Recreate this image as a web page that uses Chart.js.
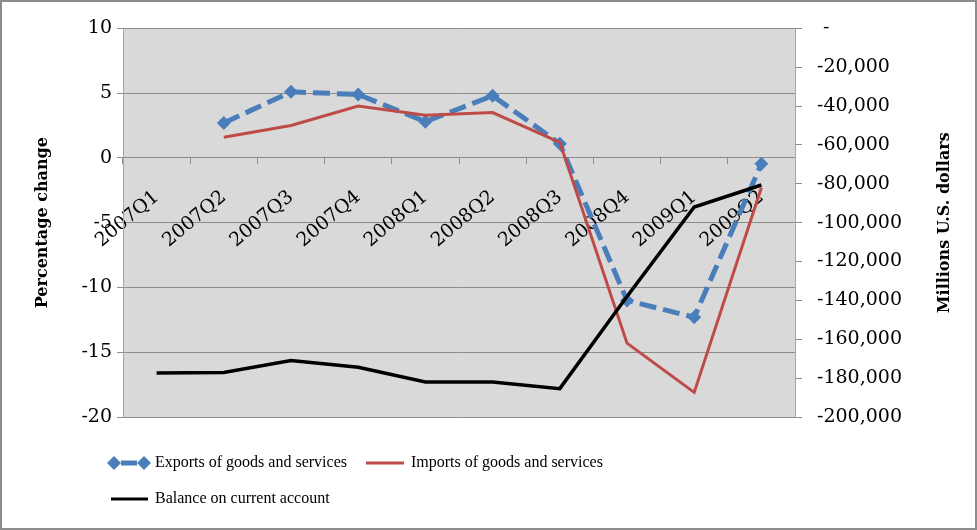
<!DOCTYPE html>
<html>
<head>
<meta charset="utf-8">
<script src="https://cdn.jsdelivr.net/npm/chart.js@4.4.1/dist/chart.umd.min.js"></script>
<style>
  html, body { margin: 0; padding: 0; background: #fff; }
  #frame { width: 977px; height: 530px; box-sizing: border-box; border: 2px solid #8c8c8c; }
  #chart-container { position: relative; width: 973px; height: 526px; }
</style>
</head>
<body>
<div id="frame"><div id="chart-container"><canvas id="chart"></canvas></div></div>
<script>
const quarters = ["2007Q1", "2007Q2", "2007Q3", "2007Q4", "2008Q1", "2008Q2", "2008Q3", "2008Q4", "2009Q1", "2009Q2"];
const exportsChange = [null, 2.7, 5.1, 4.9, 2.8, 4.8, 1.1, -11.0, -12.3, -0.45];
const importsChange = [null, 1.6, 2.5, 4.0, 3.3, 3.5, 1.2, -14.3, -18.1, -2.3];
const currentBalance = [-177400, -177100, -170900, -174400, -182000, -182000, -185400, -138000, -91900, -80600];
const leftTicks = [10, 5, 0, -5, -10, -15, -20];
const rightTicks = [0, -20000, -40000, -60000, -80000, -100000, -120000, -140000, -160000, -180000, -200000];
const leftTitle = "Percentage change";
const rightTitle = "Millions U.S. dollars";

const BLUE = "#4a7ebb";
const RED = "#be4b48";
const GRID = "#8c8c8c";
const AXIS = "#a6a6a6";

function makeSwatch(w, h, draw) {
    const c = document.createElement("canvas");
    c.width = w;
    c.height = h;
    draw(c.getContext("2d"), w, h);
    return c;
}

function diamond(g, x, y, r) {
    g.beginPath();
    g.moveTo(x, y - r);
    g.lineTo(x + r, y);
    g.lineTo(x, y + r);
    g.lineTo(x - r, y);
    g.closePath();
    g.fill();
}

const swatches = [
    makeSwatch(44, 16, (g, w, h) => {
        g.fillStyle = BLUE;
        g.fillRect(14, h / 2 - 2.5, 16, 5);
        diamond(g, 7, h / 2, 7);
        diamond(g, w - 7, h / 2, 7);
    }),
    makeSwatch(38, 16, (g, w, h) => {
        g.fillStyle = RED;
        g.fillRect(0, h / 2 - 1.5, w, 3);
    }),
    makeSwatch(38, 16, (g, w, h) => {
        g.fillStyle = "#000";
        g.fillRect(1, h / 2 - 1.5, w - 1, 3);
    })
];

// grey plot background
const plotBackground = {
    id: "plotBackground",
    beforeDraw(chart) {
        const { ctx, chartArea: a } = chart;
        ctx.save();
        ctx.fillStyle = "#d9d9d9";
        ctx.fillRect(a.left, a.top, a.right - a.left, a.bottom - a.top);
        ctx.restore();
    }
};

// legend sits left-aligned under the plot
const legendPlace = {
    id: "legendPlace",
    afterLayout(chart) {
        const lg = chart.legend;
        const w = lg.right - lg.left;
        const h = lg.bottom - lg.top;
        lg.left = 89;
        lg.right = 89 + w;
        lg.top = 433;
        lg.bottom = 433 + h;
    }
};

// right axis title reads bottom-to-top like the left one
const rightAxisTitle = {
    id: "rightAxisTitle",
    afterDraw(chart) {
        const { ctx, chartArea: a } = chart;
        ctx.save();
        ctx.translate(943, (a.top + a.bottom) / 2);
        ctx.rotate(-Math.PI / 2);
        ctx.font = "bold 16px 'DejaVu Serif'";
        ctx.fillStyle = "#000";
        ctx.textAlign = "center";
        ctx.textBaseline = "middle";
        ctx.fillText(rightTitle, 0, 0);
        ctx.restore();
    }
};

const ctx = document.getElementById("chart").getContext("2d");
new Chart(ctx, {
    type: "line",
    data: {
        labels: quarters,
        datasets: [{
            label: "Exports of goods and services",
            data: exportsChange,
            yAxisID: "y",
            borderColor: BLUE,
            backgroundColor: BLUE,
            borderWidth: 5,
            borderDash: [17, 7],
            pointStyle: "rectRot",
            pointRadius: 7,
            pointBorderWidth: 0,
            pointBackgroundColor: BLUE,
            order: 3
        }, {
            label: "Imports of goods and services",
            data: importsChange,
            yAxisID: "y",
            borderColor: RED,
            backgroundColor: RED,
            borderWidth: 3,
            pointRadius: 0,
            order: 2
        }, {
            label: "Balance on current account",
            data: currentBalance,
            yAxisID: "y1",
            borderColor: "#000",
            backgroundColor: "#000",
            borderWidth: 3.5,
            pointRadius: 0,
            order: 1
        }]
    },
    options: {
        responsive: true,
        maintainAspectRatio: false,
        animation: false,
        events: [],
        layout: { padding: { left: 27, right: 16, top: 23, bottom: 29 } },
        elements: { line: { tension: 0 } },
        scales: {
            x: {
                type: "category",
                position: { y: 0 },
                offset: true,
                grid: { offset: true, drawOnChartArea: false, drawTicks: true, tickLength: 6, color: GRID },
                border: { display: true, color: GRID },
                ticks: {
                    autoSkip: false,
                    minRotation: 40,
                    maxRotation: 40,
                    padding: 22,
                    color: "#000",
                    font: { family: "'DejaVu Serif'", size: 19 }
                }
            },
            y: {
                position: "left",
                min: -20,
                max: 10,
                afterBuildTicks: scale => { scale.ticks = leftTicks.map(v => ({ value: v })); },
                afterFit: scale => { scale.width = 94; },
                grid: { color: GRID, tickLength: 6 },
                border: { color: AXIS },
                ticks: {
                    padding: 5,
                    color: "#000",
                    font: { family: "'DejaVu Serif'", size: 19 }
                },
                title: {
                    display: true,
                    text: leftTitle,
                    color: "#000",
                    padding: { top: 4, bottom: 4 },
                    font: { family: "'DejaVu Serif'", size: 16, weight: "bold" }
                }
            },
            y1: {
                position: "right",
                min: -200000,
                max: 0,
                afterBuildTicks: scale => { scale.ticks = rightTicks.map(v => ({ value: v })); },
                afterFit: scale => { scale.width = 164; },
                grid: { drawOnChartArea: false, color: GRID, tickLength: 7 },
                border: { color: AXIS },
                ticks: {
                    padding: 15,
                    color: "#000",
                    font: { family: "'DejaVu Serif'", size: 19 },
                    callback: v => v === 0 ? " -" : v.toLocaleString("en-US")
                }
            }
        },
        plugins: {
            tooltip: { enabled: false },
            legend: {
                position: "bottom",
                align: "start",
                fullSize: false,
                labels: {
                    usePointStyle: true,
                    pointStyleWidth: 36,
                    padding: 20,
                    color: "#000",
                    font: { family: "'Liberation Serif'", size: 16 },
                    generateLabels: chart => chart.data.datasets.map((ds, i) => ({
                        text: ds.label,
                        pointStyle: swatches[i],
                        fillStyle: ds.borderColor,
                        strokeStyle: ds.borderColor,
                        lineWidth: 0,
                        fontColor: "#000",
                        hidden: false,
                        datasetIndex: i
                    }))
                }
            }
        }
    },
    plugins: [plotBackground, legendPlace, rightAxisTitle]
});
</script>
</body>
</html>
